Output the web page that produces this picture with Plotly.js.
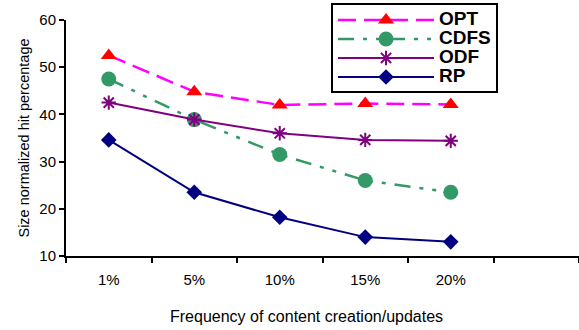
<!DOCTYPE html>
<html><head><meta charset="utf-8">
<script src="https://cdn.plot.ly/plotly-3.0.1.min.js"></script>
<style>html,body{margin:0;padding:0;background:#fff}#c{width:579px;height:330px}</style>
</head><body><div id="c"></div>
<script>
const categories = ['1%', '5%', '10%', '15%', '20%'];
const axisCategories = ['1%', '5%', '10%', '15%', '20%', ' '];
const seriesNames = ['OPT', 'CDFS', 'ODF', 'RP'];
const opt = [52.5, 44.8, 42.0, 42.3, 42.1];
const cdfs = [47.5, 38.9, 31.5, 26.0, 23.5];
const odf = [42.5, 38.9, 36.0, 34.6, 34.4];
const rp = [34.6, 23.5, 18.2, 14.0, 13.0];
const yTicks = [10, 20, 30, 40, 50, 60];
const xTitle = 'Frequency of content creation/updates';
const yTitle = 'Size normalized hit percentage';

const big = s => '<span style="font-size:19px">' + s + '</span>';

const traces = [
  {x: categories, y: opt, name: big(seriesNames[0]), mode: 'lines+markers',
   line: {color: '#FF00FF', width: 2.5, dash: '18px,8px'},
   marker: {symbol: 'triangle-up', size: 14, color: '#FF0000'}},
  {x: categories, y: cdfs, name: big(seriesNames[1]), mode: 'lines+markers',
   line: {color: '#339966', width: 2.5, dash: '16px,9px,4px,9px,4px,9px'},
   marker: {symbol: 'circle', size: 15, color: '#339966'}},
  {x: categories, y: odf, name: big(seriesNames[2]), mode: 'lines+markers',
   line: {color: '#800080', width: 2},
   marker: {symbol: 'asterisk-open', size: 12, color: '#800080', line: {color: '#800080', width: 2}}},
  {x: categories, y: rp, name: big(seriesNames[3]), mode: 'lines+markers',
   line: {color: '#000080', width: 2},
   marker: {symbol: 'diamond', size: 12, color: '#000080'}}
];

const layout = {
  width: 579, height: 330,
  margin: {l: 66, r: 0, t: 20, b: 74},
  paper_bgcolor: '#fff', plot_bgcolor: '#fff',
  font: {family: 'Liberation Sans, Arial, sans-serif', size: 13, color: '#000'},
  showlegend: true,
  legend: {x: 0.5166, y: 1.07, xanchor: 'left', yanchor: 'top',
    bordercolor: '#000', borderwidth: 2, bgcolor: '#fff',
    font: {size: 12, color: '#000', family: 'Liberation Sans, Arial, sans-serif', weight: 'bold'},
    itemwidth: 96, tracegroupgap: 0},
  annotations: [{text: xTitle, xref: 'paper', yref: 'paper', x: 0.468, y: -0.255,
    xanchor: 'center', yanchor: 'middle', showarrow: false, font: {size: 16}}],
  xaxis: {type: 'category', categoryorder: 'array', categoryarray: axisCategories,
    range: [-0.5, 5.5], tickson: 'boundaries', ticks: 'outside', ticklen: 5, tickwidth: 2,
    tickcolor: '#000', showline: true, linecolor: '#000', linewidth: 2, showgrid: false,
    zeroline: false, tickfont: {size: 15}, ticklabelstandoff: 9},
  yaxis: {range: [10, 60], tickvals: yTicks, ticks: 'outside', ticklen: 5, tickwidth: 2,
    tickcolor: '#000', showline: true, linecolor: '#000', linewidth: 2, showgrid: false,
    zeroline: false, tickfont: {size: 15},
    title: {text: yTitle, font: {size: 14.5}, standoff: 6}}
};
Plotly.newPlot('c', traces, layout, {staticPlot: true, displayModeBar: false});
</script></body></html>
